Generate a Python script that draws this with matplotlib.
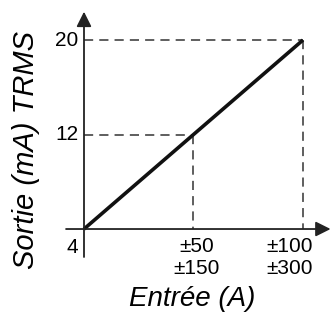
import matplotlib
matplotlib.use("Agg")
import matplotlib.pyplot as plt

plt.rcParams['font.family'] = ['Liberation Sans', 'DejaVu Sans']

# données
entree = [0, 50, 100]
sortie = [4, 12, 20]
x_labels = ['', '±50\n±150', '±100\n±300']
y_labels = ['4', '12', '20']

fig = plt.figure(figsize=(3.31, 3.15), dpi=100)
ax = fig.add_axes([0, 0, 1, 1])
ax.set_xlim(-38.36, 112.8)
ax.set_ylim(-3.28, 23.39)
ax.axis('off')

axis_col = '#222222'
dash_col = '#333333'

# axes avec flèches
ax.annotate('', xy=(0, 22.4), xytext=(0, 1.63),
            arrowprops=dict(arrowstyle='-|>,head_length=0.5,head_width=0.25',
                            color=axis_col, lw=1.3,
                            mutation_scale=18, shrinkA=0, shrinkB=0))
ax.annotate('', xy=(112.6, 4), xytext=(-8.2, 4),
            arrowprops=dict(arrowstyle='-|>,head_length=0.5,head_width=0.25',
                            color=axis_col, lw=1.3,
                            mutation_scale=18, shrinkA=0, shrinkB=0))

# lignes de repère en pointillés
for xv, yv in zip(entree[1:], sortie[1:]):
    ax.plot([0, xv], [yv, yv], color=dash_col, lw=1.1, dashes=(6, 4))
    ax.plot([xv, xv], [yv, sortie[0]], color=dash_col, lw=1.1, dashes=(6, 4))

# courbe de sortie
ax.plot([entree[0], entree[-1]], [sortie[0], sortie[-1]], color='#111111',
        lw=2.6, solid_capstyle='butt')

# étiquettes
ax.text(-2.7, sortie[2], y_labels[2], ha='right', va='center', fontsize=15)
ax.text(-2.7, sortie[1], y_labels[1], ha='right', va='center', fontsize=15)
ax.text(-5.5, 2.4, y_labels[0], ha='center', va='center', fontsize=15)
for xv, lab in zip(entree[1:], x_labels[1:]):
    ax.text(xv + (1.6 if xv == 50 else -6), 1.6, lab, ha='center', va='center',
            fontsize=15, linespacing=1.2)

ax.text(49.3, -1.93, 'Entrée (A)', ha='center', va='center', fontsize=20,
        style='italic')
ax.text(-26.4, 10.7, 'Sortie (mA) TRMS', ha='center', va='center',
        fontsize=21, style='italic', rotation=90)

fig.savefig('out.png', dpi=100)
